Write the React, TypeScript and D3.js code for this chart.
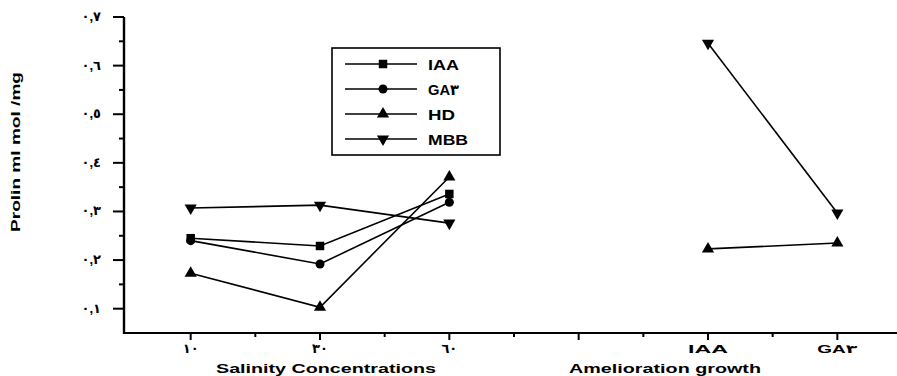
import React, { useEffect, useRef } from 'react';
import * as d3 from 'd3';

// categories along the x axis (slot 3 is an empty gap between the two groups)
const categories = ['١٠', '٣٠', '٦٠', '', 'IAA', 'GA٣'];
const salinity = ['١٠', '٣٠', '٦٠'];
const amelioration = ['IAA', 'GA٣'];

const yTicks = [0.1, 0.2, 0.3, 0.4, 0.5, 0.6, 0.7];
const yTickLabels = ['٠,١', '٠,٢', '٠,٣', '٠,٤', '٠,٥', '٠,٦', '٠,٧'];

// series values
const iaaSalinity = [0.245, 0.229, 0.336];
const ga3Salinity = [0.24, 0.192, 0.319];
const hdSalinity = [0.173, 0.103, 0.371];
const mbbSalinity = [0.307, 0.313, 0.276];
const hdAmelioration = [0.223, 0.235];
const mbbAmelioration = [0.646, 0.297];

const seriesNames = ['IAA', 'GA٣', 'HD', 'MBB'];

const W = 897;
const H = 376;
const FONT = '"Liberation Sans", "DejaVu Sans", Arial, sans-serif';

export default function App() {
  const ref = useRef<SVGSVGElement>(null);

  useEffect(() => {
    const svg = d3.select(ref.current);
    svg.selectAll('*').remove();

    const axisX = 124;
    const axisY = 333;

    const x = d3.scalePoint<string>().domain(categories).range([126, 902]).padding(0.5);
    const y = d3.scaleLinear().domain([0.05, 0.7]).range([axisY, 17]);
    const step = x.step();

    const symbols: Record<string, { type: d3.SymbolType; size: number; rotate: number }> = {
      IAA: { type: d3.symbolSquare, size: 72, rotate: 0 },
      'GA٣': { type: d3.symbolCircle, size: 64, rotate: 0 },
      HD: { type: d3.symbolTriangle, size: 64, rotate: 0 },
      MBB: { type: d3.symbolTriangle, size: 64, rotate: 180 },
    };

    const groups = [
      { name: 'IAA', cats: salinity, values: iaaSalinity },
      { name: 'GA٣', cats: salinity, values: ga3Salinity },
      { name: 'HD', cats: salinity, values: hdSalinity },
      { name: 'MBB', cats: salinity, values: mbbSalinity },
      { name: 'HD', cats: amelioration, values: hdAmelioration },
      { name: 'MBB', cats: amelioration, values: mbbAmelioration },
    ];

    const line = d3
      .line<[string, number]>()
      .x(d => x(d[0]) as number)
      .y(d => y(d[1]));

    const plot = svg.append('g');

    groups.forEach(g => {
      const pts = g.cats.map((c, i) => [c, g.values[i]] as [string, number]);
      plot
        .append('path')
        .datum(pts)
        .attr('fill', 'none')
        .attr('stroke', '#000')
        .attr('stroke-width', 1.6)
        .attr('d', line);
      const s = symbols[g.name];
      plot
        .selectAll(null)
        .data(pts)
        .enter()
        .append('path')
        .attr('d', d3.symbol().type(s.type).size(s.size)())
        .attr('fill', '#000')
        .attr('transform', d => `translate(${x(d[0])},${y(d[1])}) rotate(${s.rotate})`);
    });

    // y axis
    const yAxis = svg.append('g').attr('transform', `translate(${axisX},0)`);
    yAxis
      .append('line')
      .attr('x1', 0).attr('x2', 0)
      .attr('y1', y(0.7)).attr('y2', axisY + 1)
      .attr('stroke', '#000').attr('stroke-width', 2.4);
    yTicks.forEach((t, i) => {
      yAxis
        .append('line')
        .attr('x1', -11).attr('x2', 0)
        .attr('y1', y(t)).attr('y2', y(t))
        .attr('stroke', '#000').attr('stroke-width', 2);
      yAxis
        .append('text')
        .attr('x', -23)
        .attr('y', y(t) + 4)
        .attr('text-anchor', 'end')
        .attr('font-family', FONT)
        .attr('font-weight', 'bold')
        .attr('font-size', 13)
        .text(yTickLabels[i]);
      if (i < yTicks.length - 1) {
        yAxis
          .append('line')
          .attr('x1', -5).attr('x2', 0)
          .attr('y1', y(t + 0.05)).attr('y2', y(t + 0.05))
          .attr('stroke', '#000').attr('stroke-width', 2);
      }
    });

    // x axis
    const xAxis = svg.append('g').attr('transform', `translate(0,${axisY})`);
    xAxis
      .append('line')
      .attr('x1', axisX - 1).attr('x2', W)
      .attr('y1', 0).attr('y2', 0)
      .attr('stroke', '#000').attr('stroke-width', 2.2);
    categories.forEach(c => {
      const cx = x(c) as number;
      xAxis
        .append('line')
        .attr('x1', cx).attr('x2', cx)
        .attr('y1', 0).attr('y2', 7)
        .attr('stroke', '#000').attr('stroke-width', 2);
      xAxis
        .append('line')
        .attr('x1', cx + step / 2).attr('x2', cx + step / 2)
        .attr('y1', 0).attr('y2', 4)
        .attr('stroke', '#000').attr('stroke-width', 2);
      if (c) {
        const latin = /[A-Z]/.test(c);
        xAxis
          .append('text')
          .attr('x', cx)
          .attr('y', 20)
          .attr('text-anchor', 'middle')
          .attr('font-family', FONT)
          .attr('font-weight', 'bold')
          .attr('font-size', latin ? 11.5 : 13)
          .attr('textLength', latin ? 40 : null)
          .attr('lengthAdjust', 'spacingAndGlyphs')
          .text(c);
      }
    });

    // axis titles
    const titleAttrs = (sel: d3.Selection<SVGTextElement, unknown, null, undefined>) =>
      sel
        .attr('font-family', FONT)
        .attr('font-weight', 'bold')
        .attr('font-size', 12.5)
        .attr('text-anchor', 'middle')
        .attr('lengthAdjust', 'spacingAndGlyphs');

    svg.append('text')
      .call(titleAttrs)
      .attr('x', 326).attr('y', 373)
      .attr('textLength', 220)
      .text('Salinity Concentrations');
    svg.append('text')
      .call(titleAttrs)
      .attr('x', 665).attr('y', 373)
      .attr('textLength', 192)
      .text('Amelioration growth');
    svg.append('text')
      .call(titleAttrs)
      .attr('transform', 'translate(20,152) rotate(-90)')
      .attr('textLength', 160)
      .text('Prolin ml mol /mg');

    // legend
    const legend = svg.append('g');
    legend
      .append('rect')
      .attr('x', 332).attr('y', 48)
      .attr('width', 168).attr('height', 107)
      .attr('fill', '#fff')
      .attr('stroke', '#000').attr('stroke-width', 1.6);
    seriesNames.forEach((n, i) => {
      const ry = 64 + i * 25;
      const s = symbols[n];
      legend
        .append('line')
        .attr('x1', 345).attr('x2', 417)
        .attr('y1', ry).attr('y2', ry)
        .attr('stroke', '#000').attr('stroke-width', 1.5);
      legend
        .append('path')
        .attr('d', d3.symbol().type(s.type).size(s.size)())
        .attr('fill', '#000')
        .attr('transform', `translate(383,${ry}) rotate(${s.rotate})`);
      legend
        .append('text')
        .attr('x', 428).attr('y', ry + 5.5)
        .attr('font-family', FONT)
        .attr('font-weight', 'bold')
        .attr('font-size', 15)
        .attr('textLength', n === 'MBB' ? 40 : n === 'HD' ? 27 : 31)
        .attr('lengthAdjust', 'spacingAndGlyphs')
        .text(n);
    });
  }, []);

  return (
    <svg
      ref={ref}
      width={W}
      height={H}
      style={{ position: 'absolute', left: 0, top: 0, background: '#fff' }}
    />
  );
}
